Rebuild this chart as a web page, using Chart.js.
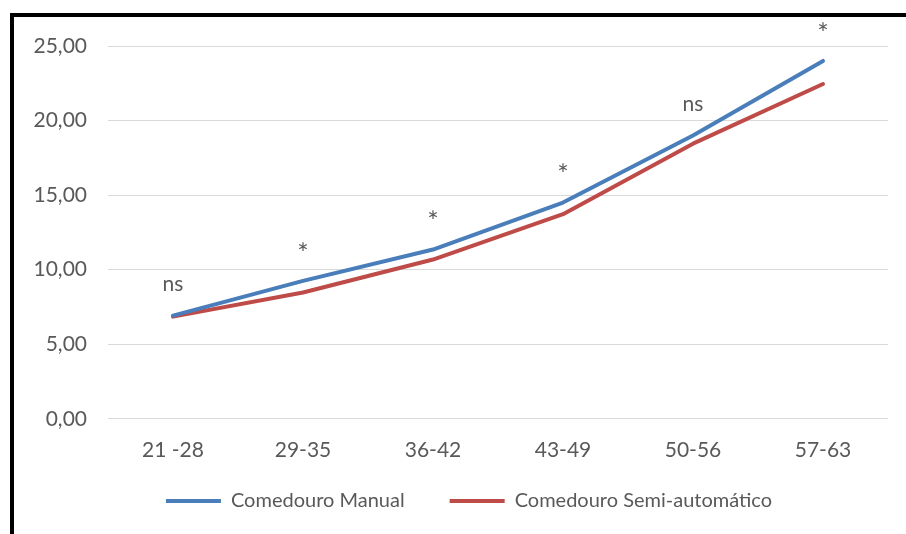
<!DOCTYPE html>
<html>
<head>
<meta charset="utf-8">
<script src="https://cdn.jsdelivr.net/npm/chart.js@4/dist/chart.umd.min.js"></script>
<style>
  html, body { margin: 0; padding: 0; background: #fff; }
  #wrap { position: relative; width: 906px; height: 534px; }
  #frame { position: absolute; left: 10px; top: 13px; width: 896px; height: 521px;
           border-top: 4px solid #000; border-left: 4px solid #000; box-sizing: border-box; pointer-events: none; z-index: 2; }
  canvas { position: absolute; left: 0; top: 0; }
</style>
</head>
<body>
<div id="wrap">
  <canvas id="c" width="906" height="534"></canvas>
  <div id="frame"></div>
</div>
<script>
const categories = ["21 -28", "29-35", "36-42", "43-49", "50-56", "57-63"];
const manual = [6.92, 9.25, 11.35, 14.5, 19.0, 24.0];
const semiAuto = [6.85, 8.47, 10.68, 13.72, 18.45, 22.45];
const significance = ["ns", "*", "*", "*", "ns", "*"];
const yTicks = [0, 5, 10, 15, 20, 25];

const FONT = "Lato, 'Open Sans', sans-serif";
const TEXT = "#595959";

const sigPlugin = {
  id: "sig",
  beforeDraw(chart) {
    const lg = chart.legend;
    if (lg && !lg._shifted) {
      const orig = lg.draw.bind(lg);
      lg.draw = function (area) {
        const ctx = chart.ctx;
        ctx.save();
        ctx.translate(25, -36);
        orig(area);
        ctx.restore();
      };
      lg._shifted = true;
    }
  },
  afterDatasetsDraw(chart) {
    const ctx = chart.ctx;
    const meta = chart.getDatasetMeta(0);
    ctx.save();
    ctx.fillStyle = TEXT;
    ctx.textAlign = "center";
    ctx.textBaseline = "middle";
    significance.forEach((s, i) => {
      const p = meta.data[i];
      if (s === "*") {
        ctx.font = "27px " + FONT;
        ctx.fillText(s, p.x, p.y - 27);
      } else {
        ctx.font = "21px " + FONT;
        ctx.fillText(s, p.x, p.y - 31);
      }
    });
    ctx.restore();
  }
};

new Chart(document.getElementById("c"), {
  type: "line",
  data: {
    labels: categories,
    datasets: [
      { label: "Comedouro Manual", data: manual, borderColor: "#4A7EBB", backgroundColor: "#4A7EBB",
        borderWidth: 4, pointRadius: 0, tension: 0, borderCapStyle: "round", borderJoinStyle: "round" },
      { label: "Comedouro Semi-automático", data: semiAuto, borderColor: "#BE4B48", backgroundColor: "#BE4B48",
        borderWidth: 4, pointRadius: 0, tension: 0, borderCapStyle: "round", borderJoinStyle: "round" }
    ]
  },
  options: {
    responsive: false,
    animation: false,
    events: [],
    layout: { padding: { left: 0, right: 18, top: 46, bottom: -20 } },
    plugins: {
      tooltip: { enabled: false },
      legend: {
        position: "bottom",
        maxHeight: 72,
        labels: {
          font: { family: FONT, size: 20 },
          color: TEXT,
          boxWidth: 55,
          boxHeight: 4,
          padding: 45,
          generateLabels(chart) {
            const items = Chart.defaults.plugins.legend.labels.generateLabels(chart);
            items.forEach(it => { it.lineWidth = 0; it.strokeStyle = "rgba(0,0,0,0)"; });
            return items;
          }
        }
      }
    },
    scales: {
      x: {
        offset: true,
        grid: { display: false, drawTicks: false },
        border: { display: false },
        ticks: { font: { family: FONT, size: 21 }, color: TEXT, padding: 19 }
      },
      y: {
        min: 0, max: 25,
        afterFit(scale) { scale.width = 108; },
        afterBuildTicks(scale) { scale.ticks = yTicks.map(v => ({ value: v })); },
        grid: { color: "#D9D9D9", lineWidth: 1, drawTicks: false },
        border: { display: false },
        ticks: {
          font: { family: FONT, size: 21 }, color: TEXT, padding: 21,
          callback: v => v.toFixed(2).replace(".", ",")
        }
      }
    }
  },
  plugins: [sigPlugin]
});
</script>
</body>
</html>
